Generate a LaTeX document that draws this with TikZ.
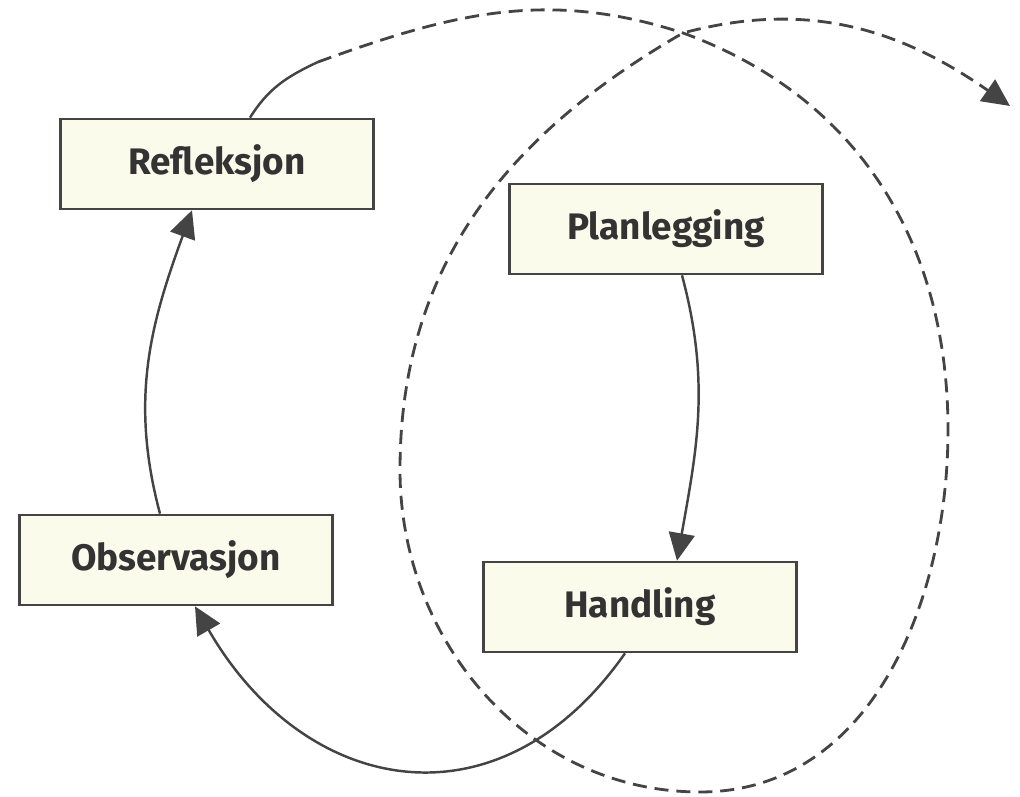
\documentclass[tikz,border=0pt]{standalone}
\usepackage{fontspec}
\setmainfont{Fira Sans}
\usetikzlibrary{arrows.meta}
\definecolor{boxfill}{RGB}{251,251,236}
\definecolor{inkgray}{RGB}{68,68,68}
\tikzset{
  stage box/.style={
    fill=boxfill,
    draw=inkgray,
    line width=1.5pt,
    minimum width=6.25cm,
    minimum height=1.8cm,
    text=black!80,
    font=\fontsize{21}{24}\selectfont\bfseries,
  },
  flow/.style={
    draw=inkgray,
    line width=1.4pt,
    -{Triangle[length=5.5mm,width=5.2mm]},
  },
  spiral/.style={
    draw=inkgray,
    line width=1.6pt,
    dash pattern=on 8pt off 4.5pt,
  }
}

\begin{document}
\begin{tikzpicture}
        \useasboundingbox (0,0) rectangle (20.4,15.94);

        \node [stage box] (refl) at (4.34,12.66) {Refleksjon};
        \node [stage box] (plan) at (13.32,11.36) {Planlegging};
        \node [stage box] (obs) at (3.52,4.74) {Observasjon};
        \node [stage box] (hand) at (12.8,3.8) {Handling};

        % the cycle
        \draw [flow] ([xshift=0.32cm]plan.south) to[out=-75,in=80] ([xshift=0.74cm]hand.north);
        \draw [flow] ([xshift=-0.3cm]hand.south) to[out=-125,in=-60,looseness=1.3] ([xshift=0.38cm]obs.south);
        \draw [flow] ([xshift=-0.32cm]obs.north) to[out=105,in=-110] ([xshift=-0.5cm]refl.south);

        % on to the next cycle
        \coordinate (s) at (6.36,14.70);
        \coordinate (c) at (13.66,15.28);
        \coordinate (r) at (18.96,7.34);
        \coordinate (b) at (14.0,0.10);
        \coordinate (l) at (8.0,6.54);
        \coordinate (e) at (20.2,13.82);
        \draw [draw=inkgray, line width=1.4pt] ([xshift=0.66cm]refl.north) to[out=58,in=205] (s);
        \draw [spiral, -{Triangle[length=5.5mm,width=5.2mm]}] (s) to[out=20,in=162] (c)
          to[out=-20,in=90] (r) to[out=-90,in=0] (b) to[out=180,in=-90] (l)
          to[out=90,in=210] (c) to[out=15,in=145] (e);
      \end{tikzpicture}
\end{document}
